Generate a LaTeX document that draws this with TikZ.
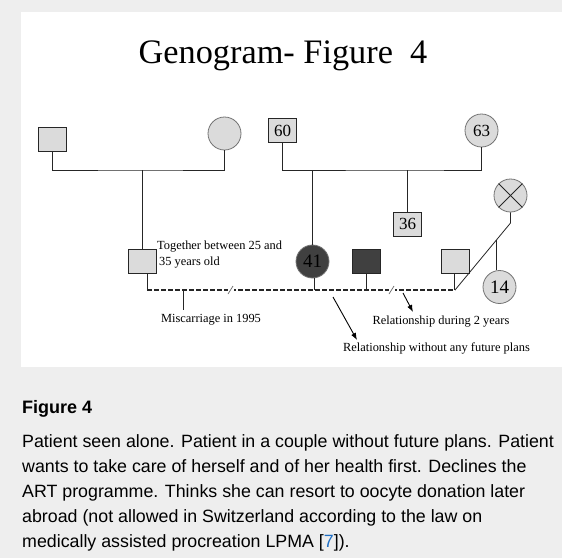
\documentclass[tikz,border=0pt]{standalone}
\usepackage{fontspec}
\setmainfont{Liberation Serif}
\newfontfamily\captionfont{Liberation Sans}
\usetikzlibrary{arrows.meta}
\usetikzlibrary{calc}
\usetikzlibrary{positioning}
\definecolor{pagegray}{HTML}{EEEEEE}
\definecolor{symgray}{HTML}{DBDBDB}
\definecolor{patientgray}{HTML}{404040}
\definecolor{linkblue}{HTML}{1F6FC5}
\tikzstyle{male} = [draw=black!85, fill=symgray, rectangle, line width=0.8pt,
    minimum width=28pt, minimum height=24pt, inner sep=0pt]
\tikzstyle{female} = [draw=black!55, fill=symgray, circle, line width=0.8pt,
    minimum size=33pt, inner sep=0pt]
\tikzstyle{age} = [font=\fontsize{17}{17}\selectfont]
\tikzstyle{note} = [font=\fontsize{12.4}{16}\selectfont, inner sep=0pt]
\tikzstyle{link} = [draw=black!85, line width=0.8pt]
\tikzstyle{union} = [draw=black!85, line width=1.4pt, dash pattern=on 5pt off 2pt]

\begin{document}
\begin{tikzpicture}[x=1pt, y=-1pt, >=Latex]
    \useasboundingbox (0,0) rectangle (562,558);
    \fill[pagegray] (0,0) rectangle (562,558);
    \fill[white] (21,12) rectangle (562,367);

    \node[font=\fontsize{34.3}{34.3}\selectfont, anchor=base] (title) at (283,63) {Genogram- Figure~~4};

    % first generation
    \node[male] at (52.5,139.5) (gf1) {};
    \node[female] at (224.5,133.5) (gm1) {};
    \node[male, age] at (282.5,130.5) (gf2) {60};
    \node[female, age] at (481.5,130.5) (gm2) {63};
    \node[shape=coordinate] at (142.5,170) (top1) {};
    \node[shape=coordinate] at (407.5,170) (top2) {};
    \draw[link] (gf1.south) |- (top1) -| (gm1.south);
    \draw[link] (gf2.south) |- (top2) -| (gm2.south);

    % second generation
    \node[male, age] at (407.5,224) (brother) {36};
    \node[male] at (142.5,261.5) (partner1) {};
    \node[female, age, fill=patientgray, font=\fontsize{19}{19}\selectfont] at (312.5,261.5) (patient) {41};
    \node[male, fill=patientgray] at (366,261.5) (partner2) {};
    \node[male] at (455.5,261.5) (partner3) {};
    \node[female] at (510.5,195.5) (exwife) {};
    \draw[link] (exwife.north west) -- (exwife.south east);
    \draw[link] (exwife.north east) -- (exwife.south west);
    \node[female, font=\fontsize{19}{19}\selectfont] at (499.5,287) (son) {14};

    \draw[link] (top1) -- (partner1.north);
    \draw[link] (patient.north |- top2) -- (patient.north);
    \draw[link] (top2) -- (brother.north);

    % couple line
    \node[shape=coordinate] at (147,290) (u1) {};
    \node[shape=coordinate] at (455,290) (u2) {};
    \node[shape=coordinate] at (510.5,223) (kink) {};
    \draw[union] (u1) -- (u2);
    \draw[link] ([xshift=4.5pt]partner1.south) -- (u1);
    \draw[link] ([xshift=1.5pt]patient.south) -- ([xshift=1.5pt]patient.south |- u1);
    \draw[link] (partner2.south) -- (partner2.south |- u1);
    \draw[link] ([xshift=-1.5pt]partner3.south) -- ([xshift=-1.5pt]partner3.south |- u1);
    \draw[link] (u2) -- (kink) -- (exwife.south);
    \node[shape=coordinate] at ($(u2)!0.746!(kink)$) (sonlink) {};
    \draw[link] (sonlink) -- (sonlink |- son.north);

    % separations
    \node[shape=coordinate] at (230.5,290) (sep1) {};
    \node[shape=coordinate] at (391.5,290) (sep2) {};
    \fill[white] ([xshift=-3pt,yshift=-2pt]sep1) rectangle ([xshift=3pt,yshift=2pt]sep1);
    \fill[white] ([xshift=-3pt,yshift=-2pt]sep2) rectangle ([xshift=3pt,yshift=2pt]sep2);
    \draw[black!60, line width=0.7pt] ([shift={(-2.5,4)}]sep1) -- ([shift={(2.5,-4)}]sep1);
    \draw[black!60, line width=0.7pt] ([shift={(-2.5,4)}]sep2) -- ([shift={(2.5,-4)}]sep2);

    % notes
    \node[note, anchor=west, align=left] at (157,255) (together) {Together between 25 and\\ \hspace{2pt}35 years old};
    \node[shape=coordinate] at (183,290) (miscup) {};
    \node[note] at (211,320) (misc) {Miscarriage in 1995};
    \draw[link] (miscup) -- (miscup |- 0,310);
    \node[note] at (441,322) (rel2) {Relationship during 2 years};
    \node[note] at (436.5,348) (rel1) {Relationship without any future plans};
    \node[shape=coordinate] at (333,297) (a1) {};
    \node[shape=coordinate] at (357,340) (b1) {};
    \node[shape=coordinate] at (403,293) (a2) {};
    \node[shape=coordinate] at (413,312) (b2) {};
    \draw[->, line width=0.9pt] (a1) -- (b1);
    \draw[->, line width=0.9pt] (a2) -- (b2);

    % caption
    \node[anchor=base west, inner sep=0pt, font=\captionfont\bfseries\fontsize{18}{18}\selectfont] at (22,413) (figlabel) {Figure 4};
    \node[anchor=north west, align=left, inner sep=0pt, font=\captionfont\fontsize{17.8}{25}\selectfont] at (22,434.3) (legend)
        {Patient seen alone. Patient in a couple without future plans. Patient\\
         wants to take care of herself and of her health first. Declines the\\
         ART programme. Thinks she can resort to oocyte donation later\\
         abroad (not allowed in Switzerland according to the law on\\
         medically assisted procreation LPMA [\textcolor{linkblue}{7}]).};
\end{tikzpicture}
\end{document}
